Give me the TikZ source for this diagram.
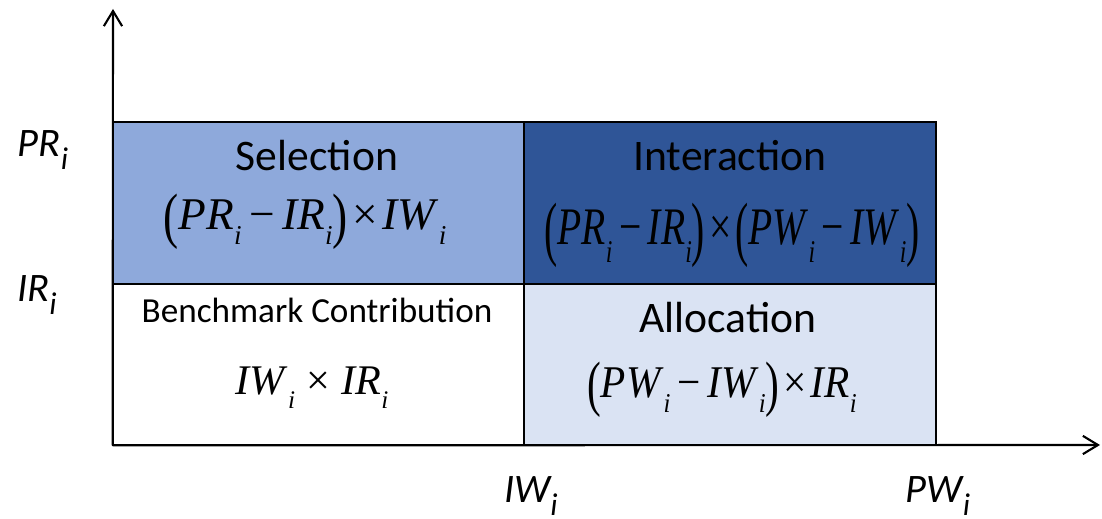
\documentclass[tikz,border=0pt]{standalone}
\usepackage{fontspec}
\setmainfont{Carlito}
\newfontfamily\tms{Liberation Serif}
\usepackage{xcolor}
\usetikzlibrary{positioning, arrows.meta}

\definecolor{selblue}{HTML}{8EA9DB}
\definecolor{intblue}{HTML}{2F5597}
\definecolor{allblue}{HTML}{DAE3F3}

% italic Times variable with index i
\newcommand\tv[1]{\textit{#1}\raisebox{-0.33em}{\scalebox{0.6}{\textit{i}}}}
% tall brackets, minus and times
\newcommand\lp{\raisebox{-0.15em}{\scalebox{1}[1.35]{(}}}
\newcommand\rp{\raisebox{-0.15em}{\scalebox{1}[1.35]{)}}}
\newcommand\mn{\,\symbol{"2212}\,}
\newcommand\mx{\kern0.1em\symbol{"D7}\kern0.1em}
% whole formula, squeezed or stretched sideways
\newcommand\fm[2]{\scalebox{#1}[1]{#2}}
% Calibri italic label with index i
\newcommand\al[1]{#1\raisebox{-0.3em}{\scalebox{0.78}{i}}}

\tikzset{
  cell/.style={draw=black, line width=0.6pt, minimum width=4.115cm, minimum height=1.615cm, inner sep=0pt, outer sep=0pt},
  title/.style={font=\fontsize{12.4}{14}\selectfont, anchor=base, inner sep=0pt},
  formula/.style={font=\fontsize{12.9}{16}\selectfont\tms, anchor=base, inner sep=0pt},
  axislabel/.style={font=\fontsize{11.5}{13}\selectfont\itshape, anchor=base, inner sep=0pt},
  axis/.style={line width=0.6pt, -{Straight Barb[length=4.3pt, width=5.2pt]}}
}

\begin{document}
\begin{tikzpicture}[x=0.01cm, y=-0.01cm]
        \useasboundingbox (0,0) rectangle (1102,519);
%
        \node[cell, fill=selblue] (sel) at (318.5,203) {};
        \node[cell, fill=intblue, right=0 of sel] (inter) {};
        \node[cell, below=0 of sel] (bench) {};
        \node[cell, fill=allblue, right=0 of bench] (alloc) {};
%
        \coordinate (ytip) at (113,9);
        \coordinate (xtip) at (1100,445);
        \draw[axis] (bench.south west) -- (ytip);
        \draw[axis] (bench.south west) -- (xtip);
%
        \node[title] (selT) at (317,171) {Selection};
        \node[formula] (selF) at (305,230) {\fm{1.0}{\lp\tv{PR}\mn\tv{IR}\rp\mx\tv{IW}}};
        \node[title] (interT) at (730,171) {Interaction};
        \node[formula, font=\fontsize{15}{18}\selectfont\tms] (interF) at (732,245) {\fm{0.75}{\lp\tv{PR}\mn\tv{IR}\rp\mx\lp\tv{PW}\mn\tv{IW}\rp}};
        \node[title, font=\fontsize{10}{12}\selectfont] (benchT) at (317,323) {Benchmark Contribution};
        \node[formula, font=\fontsize{12}{14}\selectfont\tms] (benchF) at (312,395) {\fm{1.0}{\tv{IW}\,\mx\,\tv{IR}}};
        \node[title] (allocT) at (728,333) {Allocation};
        \node[formula] (allocF) at (722,398) {\fm{0.91}{\lp\tv{PW}\mn\tv{IW}\rp\mx\tv{IR}}};
%
        \node[axislabel] (prlab) at (43,157) {\al{PR}};
        \node[axislabel] (irlab) at (37,302) {\al{IR}};
        \node[axislabel] (iwlab) at (531,503) {\al{IW}};
        \node[axislabel] (pwlab) at (938,503) {\al{PW}};
\end{tikzpicture}
\end{document}
